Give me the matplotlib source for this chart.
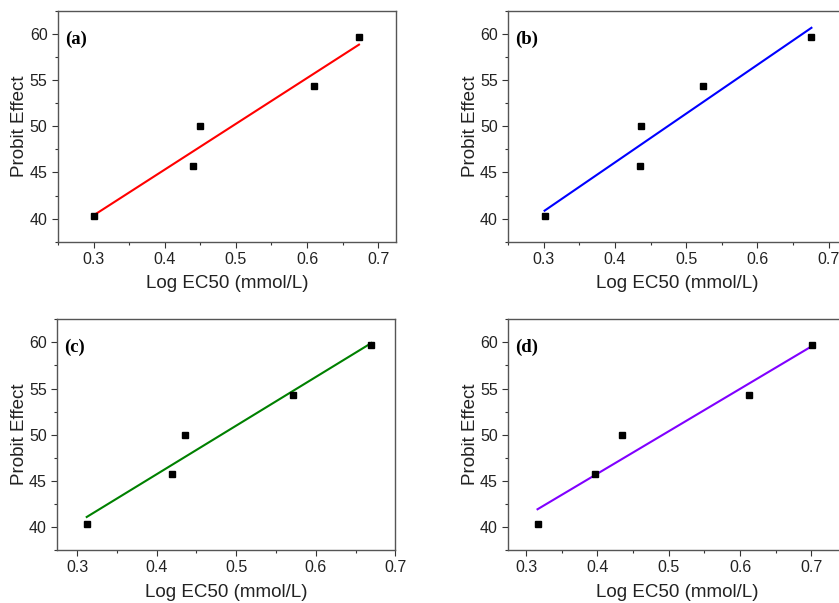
import numpy as np
import matplotlib
matplotlib.use("Agg")
import matplotlib.pyplot as plt
from matplotlib.ticker import MultipleLocator

plt.rcParams['font.family'] = ['Liberation Sans', 'DejaVu Sans']

probit_effect = [40.3, 45.7, 50.0, 54.3, 59.7]
log_ec50_a = [0.301, 0.440, 0.450, 0.610, 0.673]
log_ec50_b = [0.301, 0.435, 0.436, 0.523, 0.676]
log_ec50_c = [0.312, 0.419, 0.435, 0.571, 0.670]
log_ec50_d = [0.316, 0.396, 0.435, 0.612, 0.701]

panel_labels = ['(a)', '(b)', '(c)', '(d)']
line_colors = ['#ff0000', '#0000ff', '#008000', '#8000ff']
x_ticks_top = [0.3, 0.4, 0.5, 0.6, 0.7]
y_ticks = [40, 45, 50, 55, 60]

fig = plt.figure(figsize=(8.39, 6.03), dpi=100)
W, H = 839, 603
rects_px = [
    (58, 10.7, 338, 231),
    (508.3, 10.7, 338, 231),
    (57.3, 319.3, 338, 230.7),
    (508.3, 319.3, 338, 230.7),
]
xlims = [(0.25, 0.725), (0.25, 0.725), (0.275, 0.70), (0.275, 0.749)]
datasets = [log_ec50_a, log_ec50_b, log_ec50_c, log_ec50_d]

for i, (xs, lab, col) in enumerate(zip(datasets, panel_labels, line_colors)):
    l, t, w, h = rects_px[i]
    ax = fig.add_axes([l / W, (H - t - h) / H, w / W, h / H])
    x = np.array(xs)
    y = np.array(probit_effect)
    k, b = np.polyfit(x, y, 1)
    xf = np.array([x.min(), x.max()])
    ax.plot(xf, k * xf + b, color=col, lw=1.5, zorder=2)
    ax.plot(x, y, 's', color='black', ms=4.2, zorder=3)
    ax.set_xlim(*xlims[i])
    ax.set_ylim(37.5, 62.5)
    ax.set_xticks(x_ticks_top)
    ax.set_yticks(y_ticks)
    ax.xaxis.set_minor_locator(MultipleLocator(0.05))
    ax.yaxis.set_minor_locator(MultipleLocator(2.5))
    ax.tick_params(which='major', direction='out', length=4, width=0.8,
                   labelsize=11.5, colors='#333333', labelcolor='#222222')
    ax.tick_params(which='minor', direction='out', length=2, width=0.8,
                   colors='#333333')
    for s in ax.spines.values():
        s.set_color('#555555')
        s.set_linewidth(1.0)
    ax.set_xlabel('Log EC50 (mmol/L)', fontsize=13.5, color='#222222', labelpad=6)
    ax.set_ylabel('Probit Effect', fontsize=13.5, color='#222222', labelpad=1)
    ax.text(0.02, 0.877, lab, transform=ax.transAxes, fontsize=13.5,
            fontweight='bold', family=['Liberation Serif', 'DejaVu Serif'],
            va='center', ha='left', color='black')

fig.savefig('out.png', dpi=100)
